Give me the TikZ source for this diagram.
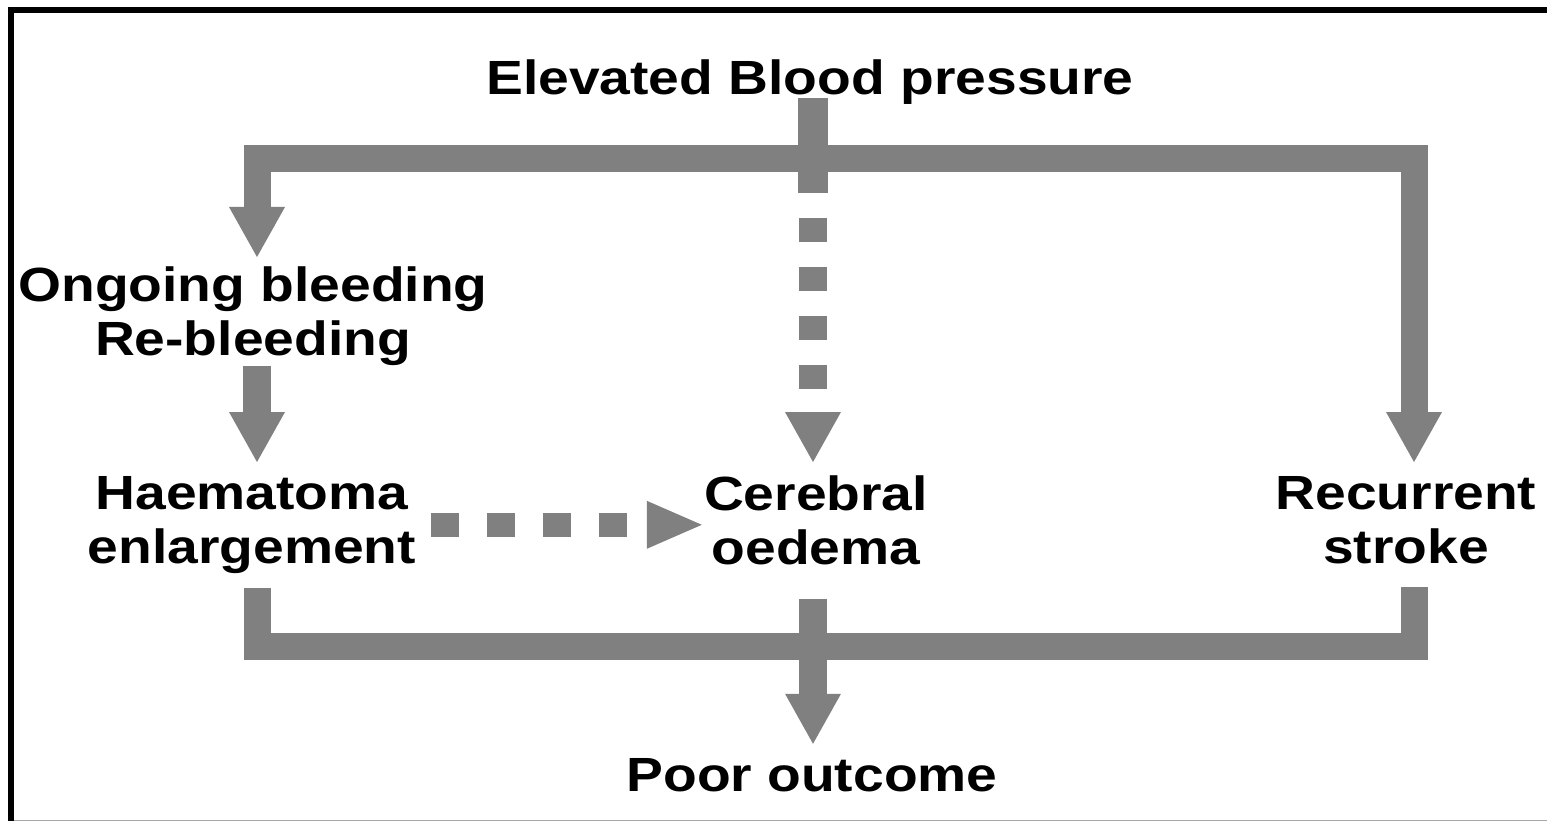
\documentclass[tikz,border=0pt]{standalone}
\usepackage{fontspec}
\setmainfont{Liberation Sans}[FakeStretch=1.15]
\usetikzlibrary{arrows.meta}
\definecolor{flowgray}{RGB}{128,128,128}

\begin{document}
\begin{tikzpicture}[x=1pt, y=-1pt,
	lbl/.style={font=\fontsize{48}{54}\selectfont\bfseries, align=center, inner sep=0pt},
	bar/.style={draw=flowgray, line width=27pt, line join=miter},
	vhead/.style={-{Triangle[width=56pt,length=50pt,line width=0pt]}},
	hhead/.style={-{Triangle[width=48pt,length=55pt,line width=0pt]}},
	dotv/.style={bar, line width=28pt, dash pattern=on 24pt off 25pt, dash phase=24pt},
	doth/.style={bar, line width=24pt, dash pattern=on 28pt off 28pt}]

\useasboundingbox (0,0) rectangle (1547,821);
\draw[line width=6pt] (11,821) |- (1547,10.5);
\draw[gray!70, line width=1.5pt] (14,820.5) -- (1547,820.5);

\node[lbl, anchor=base] (title) at (810,95) {Elevated Blood pressure};
\node[lbl, anchor=north] (ongoing) at (253,267) {Ongoing bleeding\\Re-bleeding};
\node[lbl, anchor=north] (haema) at (252,476) {Haematoma\\enlargement};
\node[lbl, anchor=north] (cerebral) at (816,476) {Cerebral\\oedema};
\node[lbl, anchor=north] (recurrent) at (1406,476) {Recurrent\\stroke};
\node[lbl, anchor=base] (poor) at (812,791) {Poor outcome};

\coordinate (colL) at (257,0);
\coordinate (colM) at (813,0);
\coordinate (colR) at (1414,0);
\coordinate (topbar) at (813,158.5);
\coordinate (botbar) at (813,646.5);
\coordinate (dotstart) at (813,193);

% pressure splits three ways
\draw[bar, line width=30pt, shorten <=-7pt] (title.south -| colM) -- (dotstart);
\draw[bar, {Triangle[width=56pt,length=50pt,line width=0pt]}-{Triangle[width=56pt,length=50pt,line width=0pt]},
	shorten <=10pt, shorten >=14pt] (ongoing.north -| colL) |- (topbar) -| (recurrent.north -| colR);
\draw[dotv, vhead, shorten >=14pt] (dotstart) -- (cerebral.north -| colM);

\draw[bar, line width=28pt, vhead, shorten >=14pt] (ongoing.south -| colL) -- (haema.north -| colL);
\draw[doth, hhead, shorten <=15pt, shorten >=2pt] (haema.east) -- (cerebral.west |- haema.east);

% all three lead to poor outcome
\draw[bar, shorten <=14pt, shorten >=23pt] (haema.south -| colL) |- (botbar) -| (recurrent.south -| colR);
\draw[bar, line width=28pt, vhead, shorten <=33pt, shorten >=14pt] (cerebral.south -| colM) -- (poor.north -| colM);

\end{tikzpicture}
\end{document}
